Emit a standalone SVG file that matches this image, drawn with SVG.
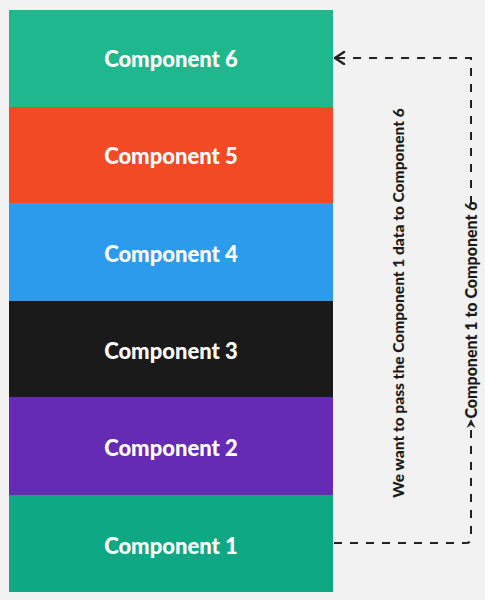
<svg xmlns="http://www.w3.org/2000/svg" width="485" height="600" viewBox="0 0 485 600">
<defs>
<style>
.box{stroke:none}
.lbl{font-family:Lato,"Open Sans","Liberation Sans",sans-serif;font-weight:900;font-size:22px;fill:#ffffff;text-anchor:middle;dominant-baseline:central}
.side{font-family:Lato,"Open Sans","Liberation Sans",sans-serif;font-weight:900;font-size:15.5px;fill:#1a1a1a;text-anchor:middle;dominant-baseline:central}
.dash{fill:none;stroke:#222;stroke-width:2;stroke-dasharray:8 8}
</style>
<marker id="open" markerWidth="14" markerHeight="16" refX="12" refY="7" orient="auto" markerUnits="userSpaceOnUse">
<path d="M3,1 L12,7 L3,13" fill="none" stroke="#222" stroke-width="2.5" stroke-linecap="round" stroke-linejoin="round"/>
</marker>
</defs>
<rect width="485" height="600" fill="#f2f2f2"/>
<g id="component6"><rect class="box" x="9" y="10" width="324" height="97" fill="#1fb88c"/><text class="lbl" x="171" y="58">Component 6</text></g>
<g id="component5"><rect class="box" x="9" y="107" width="324" height="96" fill="#f24a24"/><text class="lbl" x="171" y="155">Component 5</text></g>
<g id="component4"><rect class="box" x="9" y="203" width="324" height="98" fill="#2d9bec"/><text class="lbl" x="171" y="253">Component 4</text></g>
<g id="component3"><rect class="box" x="9" y="301" width="324" height="96" fill="#1a1a1a"/><text class="lbl" x="171" y="350">Component 3</text></g>
<g id="component2"><rect class="box" x="9" y="397" width="324" height="98" fill="#652bb5"/><text class="lbl" x="171" y="447">Component 2</text></g>
<g id="component1"><rect class="box" x="9" y="495" width="324" height="97" fill="#0fa884"/><text class="lbl" x="171" y="545">Component 1</text></g>
<g id="connectors">
<path class="dash" d="M334,543 L466,543 Q471,543 471,538 L471,430"/>
<path d="M471,419 L466.5,428 L471,425 L475.5,428 Z" fill="#222"/>
<path class="dash" d="M471,204 L471,58 L335,58" marker-end="url(#open)"/>
<text class="side" style="font-size:16px" transform="translate(470,310) rotate(-90)">Component 1 to Component 6</text>
</g>
<g id="note"><text class="side" transform="translate(398,303) rotate(-90)">We want to pass the Component 1 data to Component 6</text></g>
</svg>
